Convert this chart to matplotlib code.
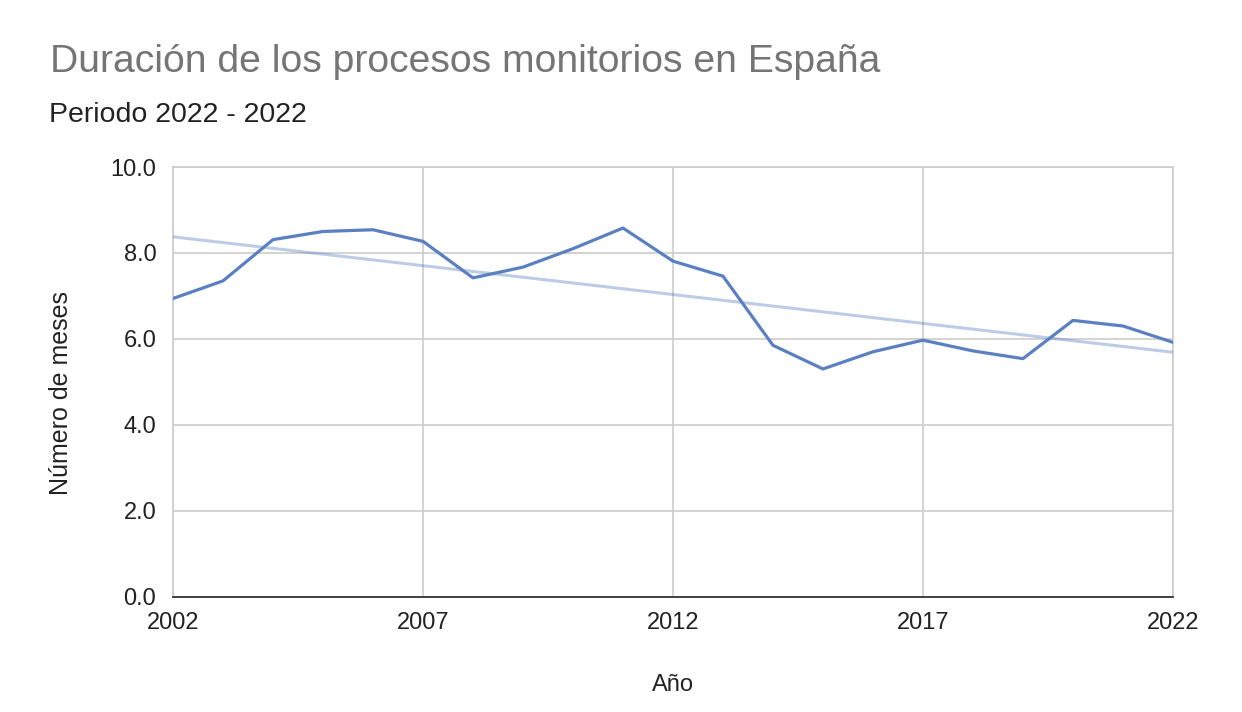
import numpy as np
import matplotlib.pyplot as plt
from matplotlib.ticker import FormatStrFormatter

# data
years = np.arange(2002, 2023)
meses = [6.94, 7.35, 8.31, 8.50, 8.54, 8.27, 7.42, 7.67, 8.10, 8.58, 7.81,
         7.46, 5.85, 5.30, 5.70, 5.97, 5.72, 5.54, 6.43, 6.30, 5.92]
x_ticks = [2002, 2007, 2012, 2017, 2022]
y_ticks = [0, 2, 4, 6, 8, 10]

plt.rcParams['font.family'] = ['Liberation Sans', 'DejaVu Sans']

fig = plt.figure(figsize=(12.42, 7.12), dpi=100)
ax = fig.add_axes([0.1393, 0.162, 0.8051, 0.6034])

# linear trend line
coef = np.polyfit(years, meses, 1)
ax.plot(years, np.polyval(coef, years), color='#5b80c2', alpha=0.4, lw=2.2,
        solid_capstyle='butt', zorder=3)
ax.plot(years, meses, color='#5b80c2', lw=2.3, zorder=4)

ax.set_xlim(2002, 2022)
ax.set_ylim(0, 10)
ax.set_xticks(x_ticks)
ax.set_yticks(y_ticks)
ax.yaxis.set_major_formatter(FormatStrFormatter('%.1f'))
ax.grid(True, color='#cccccc', lw=1.2)
ax.set_axisbelow(True)
for s in ['left', 'right', 'top']:
    ax.spines[s].set_color('#cccccc')
    ax.spines[s].set_linewidth(1.2)
ax.spines['bottom'].set_color('#333333')
ax.spines['bottom'].set_linewidth(1.3)
ax.tick_params(length=0, labelsize=17, colors='#222222')
ax.tick_params(axis='x', pad=11)
ax.tick_params(axis='y', pad=12)

ax.set_xlabel('Año', fontsize=17, color='#222222', va='center')
ax.set_ylabel('Número de meses', fontsize=18, color='#222222', va='center')
ax.xaxis.set_label_coords(0.5, -0.205)
ax.yaxis.set_label_coords(-0.112, 0.474)

fig.text(50 / 1242, 1 - 72 / 712, 'Duración de los procesos monitorios en España',
         fontsize=28.2, color='#757575', ha='left', va='baseline')
fig.text(49 / 1242, 1 - 122 / 712, 'Periodo 2022 - 2022',
         fontsize=20.5, color='#222222', ha='left', va='baseline')

fig.savefig('out.png', dpi=100, facecolor='white')
